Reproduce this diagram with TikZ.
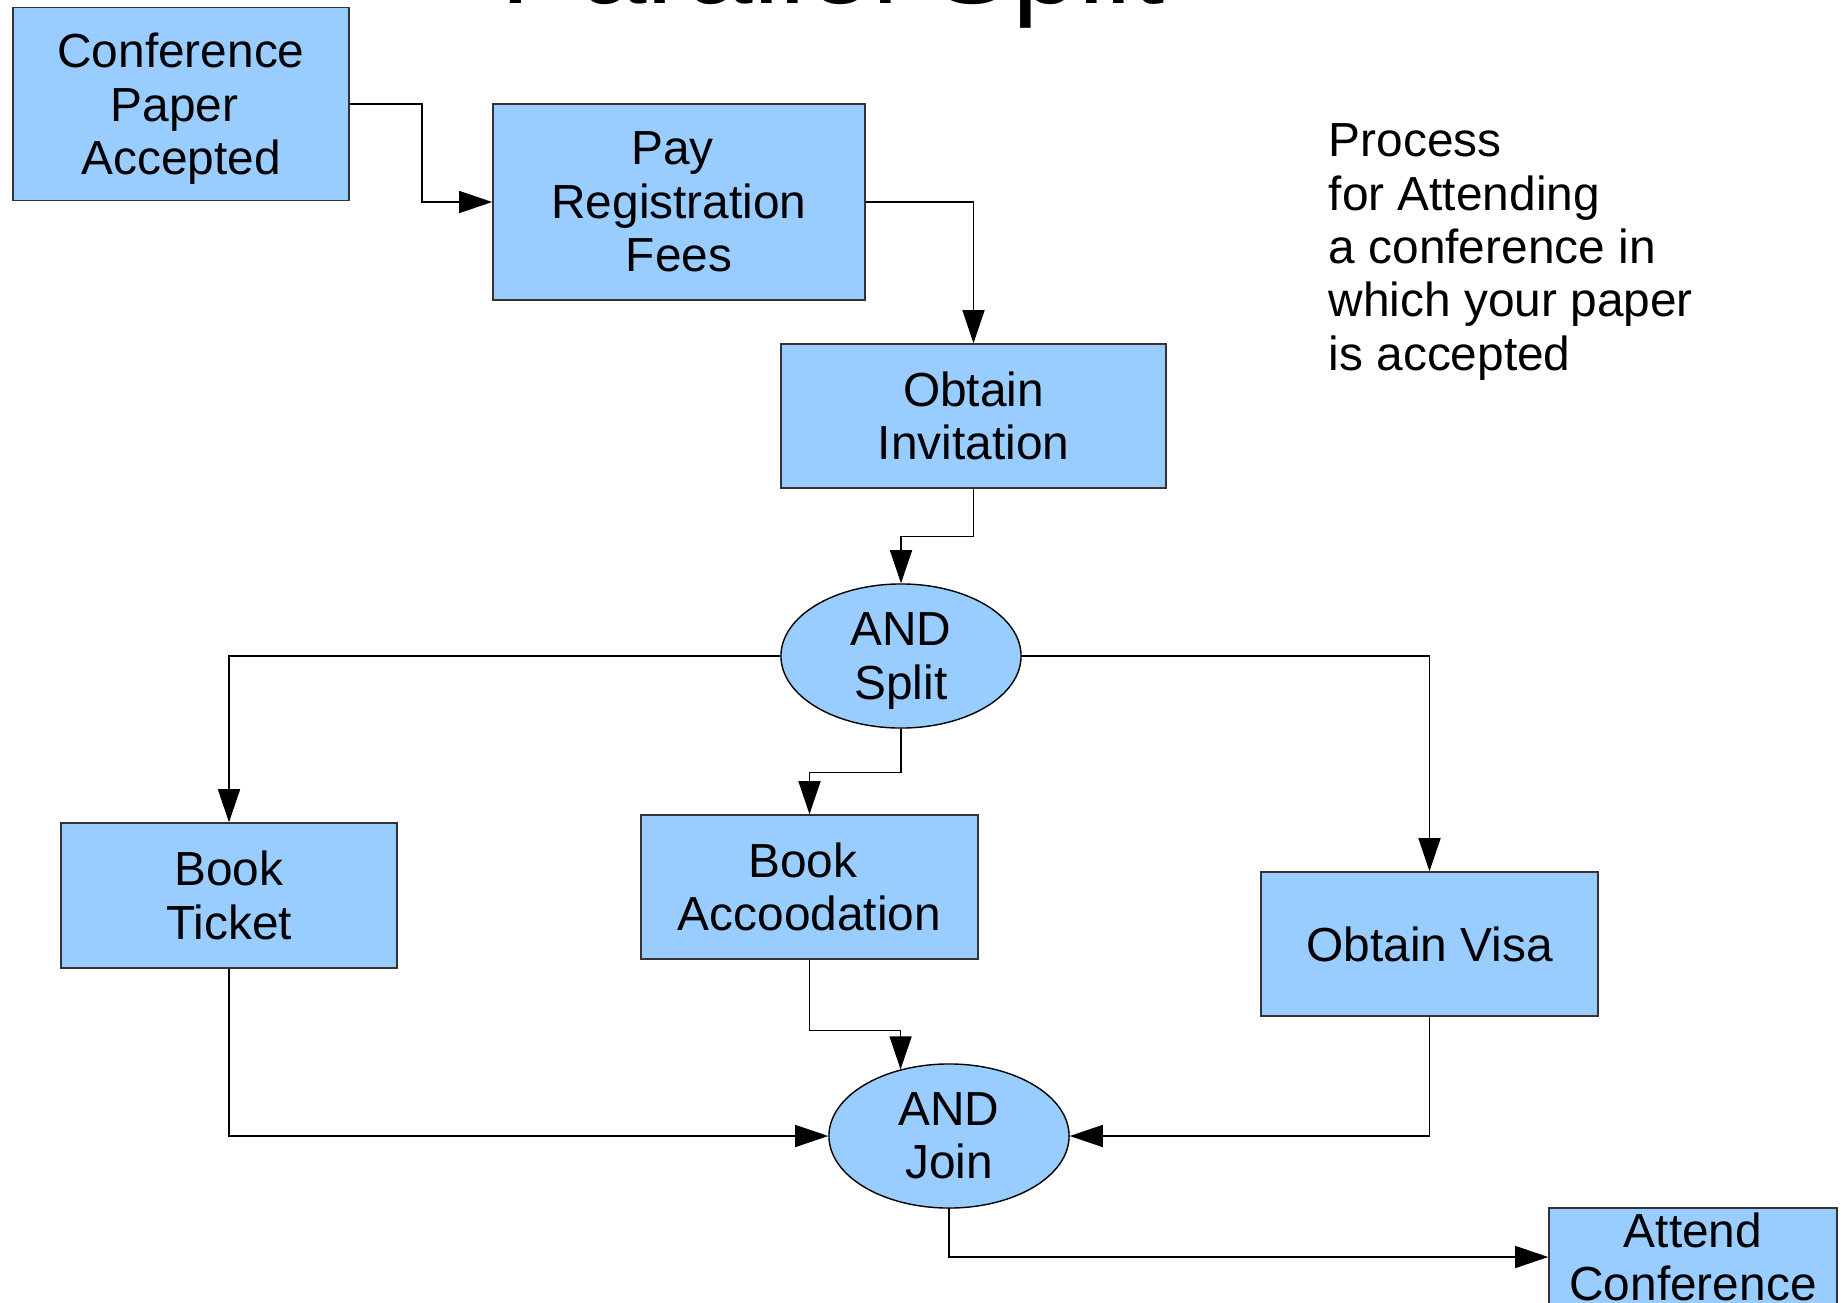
\documentclass[tikz,border=0pt]{standalone}
\usepackage{fontspec}
\setmainfont{Liberation Sans}
\usetikzlibrary{arrows.meta,shapes.geometric}
\definecolor{boxblue}{HTML}{99CCFF}
% last line without its descender, so the text sits as in the drawing
\newcommand{\nodp}[1]{\raisebox{0pt}[\height][0pt]{#1}}
% trailing blank that the drawing keeps after some words
\newcommand{\tsp}{\rule{0.278em}{0pt}}

\begin{document}
\begin{tikzpicture}[x=0.01cm,y=-0.01cm,
  every node/.style={font=\fontsize{13.6}{15.2}\selectfont},
  task/.style={draw=black!80, line width=0.4pt, fill=boxblue, inner sep=0pt, align=center},
  gate/.style={ellipse, draw=black, line width=0.4pt, fill=boxblue, inner sep=0pt, align=center,
    minimum width=2.4cm, minimum height=1.44cm},
  flow/.style={draw=black, line width=0.4pt, -{Triangle[length=0.33cm,width=0.22cm]}}]
\useasboundingbox (0,0) rectangle (1845,1303);

\node[font=\fontsize{34}{40}\selectfont, anchor=base] (title) at (833,4) {Parallel Split};
\node[anchor=north west, align=left, inner sep=0pt] (note) at (1328,123)
  {Process\\for Attending\\a conference in\\which your paper\\is accepted};

\node[task, minimum width=3.36cm, minimum height=1.93cm] (paper) at (181,104) {Conference\\Paper\tsp\\\nodp{Accepted}};
\node[task, minimum width=3.72cm, minimum height=1.96cm] (fees) at (679,202) {Pay\tsp\\Registration\\Fees};
\node[task, minimum width=3.85cm, minimum height=1.44cm] (invite) at (973.5,416) {Obtain\\Invitation};
\node[gate] (split) at (901,656) {AND\\\nodp{Split}};
\node[task, minimum width=3.36cm, minimum height=1.45cm] (ticket) at (229,895.5) {Book\\Ticket};
\node[task, minimum width=3.37cm, minimum height=1.44cm] (lodging) at (809.5,887) {Book\tsp\\Accoodation};
\node[task, minimum width=3.37cm, minimum height=1.44cm] (visa) at (1429.5,944) {Obtain Visa};
\node[gate] (join) at (949,1136) {AND\\Join};
\node[task, minimum width=2.88cm, minimum height=0.98cm] (attend) at (1693,1257) {Attend\\Conference};

\draw[flow] (paper.east) -- ++(72,0) |- (fees.west);
\draw[flow] (fees.east) -| (invite.north);
\draw[flow] (invite.south) -- ++(0,48) -| (split.north);
\draw[flow] (split.west) -| (ticket.north);
\draw[flow] (split.south) -- ++(0,44) -| (lodging.north);
\draw[flow] (split.east) -| (visa.north);
\draw[flow] (ticket.south) |- (join.west);
\draw[flow] (lodging.south) -- ++(0,71) -| (join.126);
\draw[flow] (visa.south) |- (join.east);
\draw[flow] (join.south) |- (attend.west);
\end{tikzpicture}
\end{document}
